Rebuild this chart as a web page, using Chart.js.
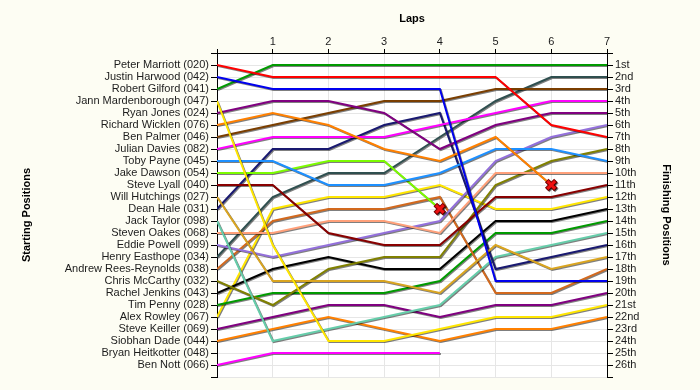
<!DOCTYPE html>
<html>
<head>
<meta charset="utf-8">
<script src="https://cdn.jsdelivr.net/npm/chart.js@4.4.1/dist/chart.umd.min.js"></script>
<style>
  html, body { margin: 0; padding: 0; background: #fdfdf3; }
  #wrap { width: 700px; height: 390px; }
</style>
</head>
<body>
<div id="wrap"><canvas id="raceChart" width="700" height="390"></canvas></div>
<script>
// laps along the top axis
const laps = [0, 1, 2, 3, 4, 5, 6, 7];

// starting grid, left axis labels (position 1..26)
const drivers = [
  'Peter Marriott (020)', 'Justin Harwood (042)', 'Robert Gilford (041)',
  'Jann Mardenborough (047)', 'Ryan Jones (024)', 'Richard Wicklen (076)',
  'Ben Palmer (046)', 'Julian Davies (082)', 'Toby Payne (045)',
  'Jake Dawson (054)', 'Steve Lyall (040)', 'Will Hutchings (027)',
  'Dean Hale (031)', 'Jack Taylor (098)', 'Steven Oakes (068)',
  'Eddie Powell (099)', 'Henry Easthope (034)', 'Andrew Rees-Reynolds (038)',
  'Chris McCarthy (032)', 'Rachel Jenkins (043)', 'Tim Penny (028)',
  'Alex Rowley (067)', 'Steve Keiller (069)', 'Siobhan Dade (044)',
  'Bryan Heitkotter (048)', 'Ben Nott (066)'
];

// right axis labels
const finishLabels = [
  '1st', '2nd', '3rd', '4th', '5th', '6th', '7th', '8th', '9th', '10th',
  '11th', '12th', '13th', '14th', '15th', '16th', '17th', '18th', '19th', '20th',
  '21st', '22nd', '23rd', '24th', '25th', '26th'
];

// position of each driver at every lap (same order as drivers)
const positions = [
  [1, 2, 2, 2, 2, 2, 6, 7],
  [2, 3, 3, 3, 3, 19, 19, 19],
  [3, 1, 1, 1, 1, 1, 1, 1],
  [4, 16, 24, 24, 23, 22, 22, 21],
  [5, 4, 4, 5, 8, 6, 5, 5],
  [6, 5, 6, 8, 9, 7, 11],
  [7, 6, 5, 4, 4, 3, 3, 3],
  [8, 7, 7, 7, 6, 5, 4, 4],
  [9, 9, 11, 11, 10, 8, 8, 9],
  [10, 10, 9, 9, 13],
  [11, 11, 15, 16, 16, 12, 12, 11],
  [12, 19, 19, 19, 20, 16, 18, 17],
  [13, 8, 8, 6, 5, 18, 17, 16],
  [14, 24, 23, 22, 21, 17, 16, 15],
  [15, 15, 14, 14, 15, 10, 10, 10],
  [16, 17, 16, 15, 14, 9, 7, 6],
  [17, 12, 10, 10, 7, 4, 2, 2],
  [18, 14, 13, 13, 12, 20, 20, 18],
  [19, 21, 18, 17, 17, 11, 9, 8],
  [20, 18, 17, 18, 18, 14, 14, 13],
  [21, 20, 20, 20, 19, 15, 15, 14],
  [22, 13, 12, 12, 11, 13, 13, 12],
  [23, 22, 21, 21, 22, 21, 21, 20],
  [24, 23, 22, 23, 24, 23, 23, 22],
  [],
  [26, 25, 25, 25, 25]
];

const colors = [
  '#ff0000', '#0000ee', '#009a00', '#ffe600', '#800080', '#ff8000',
  '#7a3e00', '#ff00ff', '#1e90ff', '#7cfc00', '#880000', '#daa520',
  '#191970', '#66cdaa', '#ffa07a', '#9370db', '#2f4f4f', '#d2691e',
  '#808000', '#000000', '#009a00', '#ffe600', '#800080', '#ff8000',
  '#8b4513', '#ff00ff'
];

// retirements, marked with a cross
const retiredLaps = [4, 6];
const retiredPos = [13, 11];

const lineSets = positions.map((row, i) => ({
  label: drivers[i],
  data: row.map((p, k) => ({ x: laps[k], y: p })),
  borderColor: colors[i],
  backgroundColor: colors[i],
  borderWidth: 2,
  pointRadius: 0,
  fill: false,
  tension: 0,
  order: 1
}));

const crossPoints = retiredLaps.map((l, i) => ({ x: l, y: retiredPos[i] }));

// background: cream page, white plot area
const backdrop = {
  id: 'backdrop',
  beforeDraw(chart) {
    const { ctx, chartArea: a } = chart;
    ctx.save();
    ctx.fillStyle = '#fdfdf3';
    ctx.fillRect(0, 0, chart.width, chart.height);
    ctx.fillStyle = '#ffffff';
    ctx.fillRect(a.left, a.top, a.right - a.left, a.bottom - a.top);
    ctx.restore();
  }
};

// small drop shadow under the lines
const lineShadow = {
  id: 'lineShadow',
  beforeDatasetsDraw(chart) {
    const ctx = chart.ctx;
    ctx.save();
    ctx.shadowColor = 'rgba(0,0,0,0.5)';
    ctx.shadowOffsetX = 1;
    ctx.shadowOffsetY = 1;
    ctx.shadowBlur = 0;
  },
  afterDatasetsDraw(chart) {
    chart.ctx.restore();
  }
};

Chart.defaults.font.family = 'Arial, "Liberation Sans", sans-serif';
Chart.defaults.font.size = 11;
Chart.defaults.color = '#1c1c1c';

const gridColor = '#e6e6e6';

new Chart(document.getElementById('raceChart'), {
  type: 'line',
  data: {
    datasets: [
      {
        type: 'scatter',
        data: crossPoints,
        pointStyle: 'crossRot',
        radius: 5.5,
        borderWidth: 3,
        borderColor: '#ee1111',
        order: -2
      },
      {
        type: 'scatter',
        data: crossPoints,
        pointStyle: 'crossRot',
        radius: 6.5,
        borderWidth: 5,
        borderColor: '#7a0000',
        order: -1
      },
      ...lineSets
    ]
  },
  options: {
    responsive: false,
    animation: false,
    layout: { padding: { top: 8, left: 16, right: 23, bottom: 13 } },
    plugins: {
      legend: { display: false },
      tooltip: { enabled: false }
    },
    scales: {
      x: {
        type: 'linear',
        position: 'top',
        min: 0,
        max: 7,
        afterFit: s => { s.height = 45; },
        ticks: {
          stepSize: 1,
          padding: 0,
          callback: v => (v === 0 ? '' : String(v))
        },
        grid: { color: gridColor, tickColor: '#000', tickLength: 4 },
        border: { color: '#000', width: 1 },
        title: { display: true, text: 'Laps', font: { weight: 'bold', size: 11 }, color: '#000' }
      },
      y: {
        type: 'linear',
        position: 'left',
        reverse: true,
        min: 0,
        max: 27,
        afterFit: s => { s.width = 201; },
        ticks: {
          stepSize: 1,
          autoSkip: false,
          maxTicksLimit: 100,
          padding: 2,
          callback: v => drivers[v - 1] || ''
        },
        grid: { color: gridColor, tickColor: '#000', tickLength: 6 },
        border: { color: '#000', width: 1 },
        title: { display: true, text: 'Starting Positions', font: { weight: 'bold', size: 11 }, color: '#000' }
      },
      y2: {
        type: 'linear',
        position: 'right',
        reverse: true,
        min: 0,
        max: 27,
        afterFit: s => { s.width = 70; },
        ticks: {
          stepSize: 1,
          autoSkip: false,
          maxTicksLimit: 100,
          padding: 2,
          callback: v => finishLabels[v - 1] || ''
        },
        grid: { drawOnChartArea: false, tickColor: '#000', tickLength: 6 },
        border: { color: '#000', width: 1 },
        title: { display: true, text: 'Finishing Positions', font: { weight: 'bold', size: 11 }, color: '#000' }
      }
    }
  },
  plugins: [backdrop, lineShadow]
});
</script>
</body>
</html>
